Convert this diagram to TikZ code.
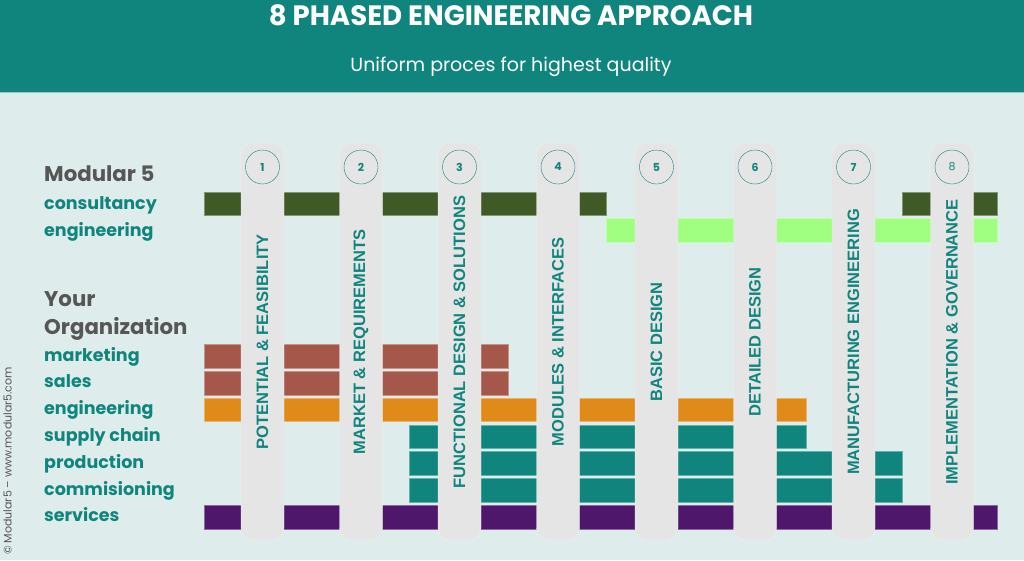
\documentclass[tikz,border=0pt]{standalone}
\usepackage{fontspec}
\setmainfont{Poppins}
\newfontfamily\pillarfont{Liberation Sans}
\usetikzlibrary{positioning}

\definecolor{mteal}{HTML}{10857E}
\definecolor{mback}{HTML}{DEEDEC}
\definecolor{mgray}{HTML}{565656}
\definecolor{mpillar}{HTML}{E5E5E5}
\definecolor{mdark}{HTML}{3F5A27}
\definecolor{mlight}{HTML}{A0FF80}
\definecolor{mbrick}{HTML}{A5574A}
\definecolor{morange}{HTML}{E08A1A}
\definecolor{mpurple}{HTML}{4E176B}

\tikzset{
  headline/.style={inner sep=0pt, text=white, xscale=0.985, font=\bfseries\fontsize{28}{30}\selectfont},
  subline/.style={inner sep=0pt, text=white, font=\fontsize{19}{21}\selectfont},
  grouplabel/.style={anchor=base west, inner sep=0pt, text=mgray, font=\bfseries\fontsize{21.3}{23}\selectfont},
  rowlabel/.style={anchor=base west, inner sep=0pt, text=mteal, font=\bfseries\fontsize{17.5}{19}\selectfont},
  pillar/.style={fill=mpillar, draw=white!40!mpillar, rounded corners=12pt},
  phase/.style={circle, draw=mteal, minimum size=34pt, inner sep=0pt, text=mteal, font=\bfseries\fontsize{11}{13}\selectfont},
  phasename/.style={rotate=90, inner sep=0pt, text=mteal, font=\pillarfont\bfseries\fontsize{16.5}{18}\selectfont},
  slab/.style={draw=white!35!#1, fill=#1, line width=0.6pt},
}

\begin{document}
\begin{tikzpicture}[x=1pt, y=-1pt]
	\useasboundingbox (0,0) rectangle (1024,560);
	\fill[mback] (0,0) rectangle (1024,560);
	\fill[mteal] (0,0) rectangle (1024,92);
	\draw[mteal!45!white] (0,92) -- (1024,92);
	
	\node[headline] (title) at (511,15.5) {8 PHASED ENGINEERING APPROACH};
	\node[subline] (subtitle) at (511,67) {Uniform proces for highest quality};
	
	% activity bars, pillars are laid over them
	\def\h{23.5}
	\foreach \y/\c/\a/\b in {192/mdark/204/606, 192/mdark/902/997, 218.5/mlight/606/997,
		344.5/mbrick/204/508, 371.3/mbrick/204/508, 398.1/morange/204/806,
		424.9/mteal/409/806, 451.7/mteal/409/902, 478.5/mteal/409/902, 505.3/mpurple/204/997}
		\draw[slab=\c] (\a,\y) rectangle (\b,{\y+\h});
	
	% the eight phases
	\foreach \i/\name in {1/{POTENTIAL \& FEASIBILITY}, 2/{MARKET \& REQUIREMENTS},
		3/{FUNCTIONAL DESIGN \& SOLUTIONS}, 4/{MODULES \& INTERFACES}, 5/{BASIC DESIGN},
		6/{DETAILED DESIGN}, 7/{MANUFACTURING ENGINEERING}, 8/{IMPLEMENTATION \& GOVERNANCE}} {
		\pgfmathsetmacro\px{241+98.5*(\i-1)}
		\draw[pillar] (\px,143) rectangle ({\px+43},540);
		\node[phase] (n\i) at ({\px+21.5},167) {\ifnum\i=8 \mdseries\fi\i};
		\node[phasename] (p\i) at ({\px+21.5},342) {\name};
	}
	
	\node[grouplabel] (m5) at (44,181.5) {Modular 5};
	\node[rowlabel] (cons) at (44,209.5) {consultancy};
	\node[rowlabel] (ceng) at (44,236) {engineering};
	\node[grouplabel] (your) at (44,306) {Your};
	\node[grouplabel] (org) at (44,334) {Organization};
	\foreach \k/\name in {0/marketing, 1/sales, 2/engineering, 3/supply chain,
		4/production, 5/commisioning, 6/services}
		\node[rowlabel] (r\k) at (44,{361+26.8*\k}) {\name};
	
	\node[rotate=90, anchor=base west, inner sep=0pt, text=mgray, font=\fontsize{11}{13}\selectfont]
		(copy) at (11.5,555) {© Modular5 – www.modular5.com};
\end{tikzpicture}
\end{document}
